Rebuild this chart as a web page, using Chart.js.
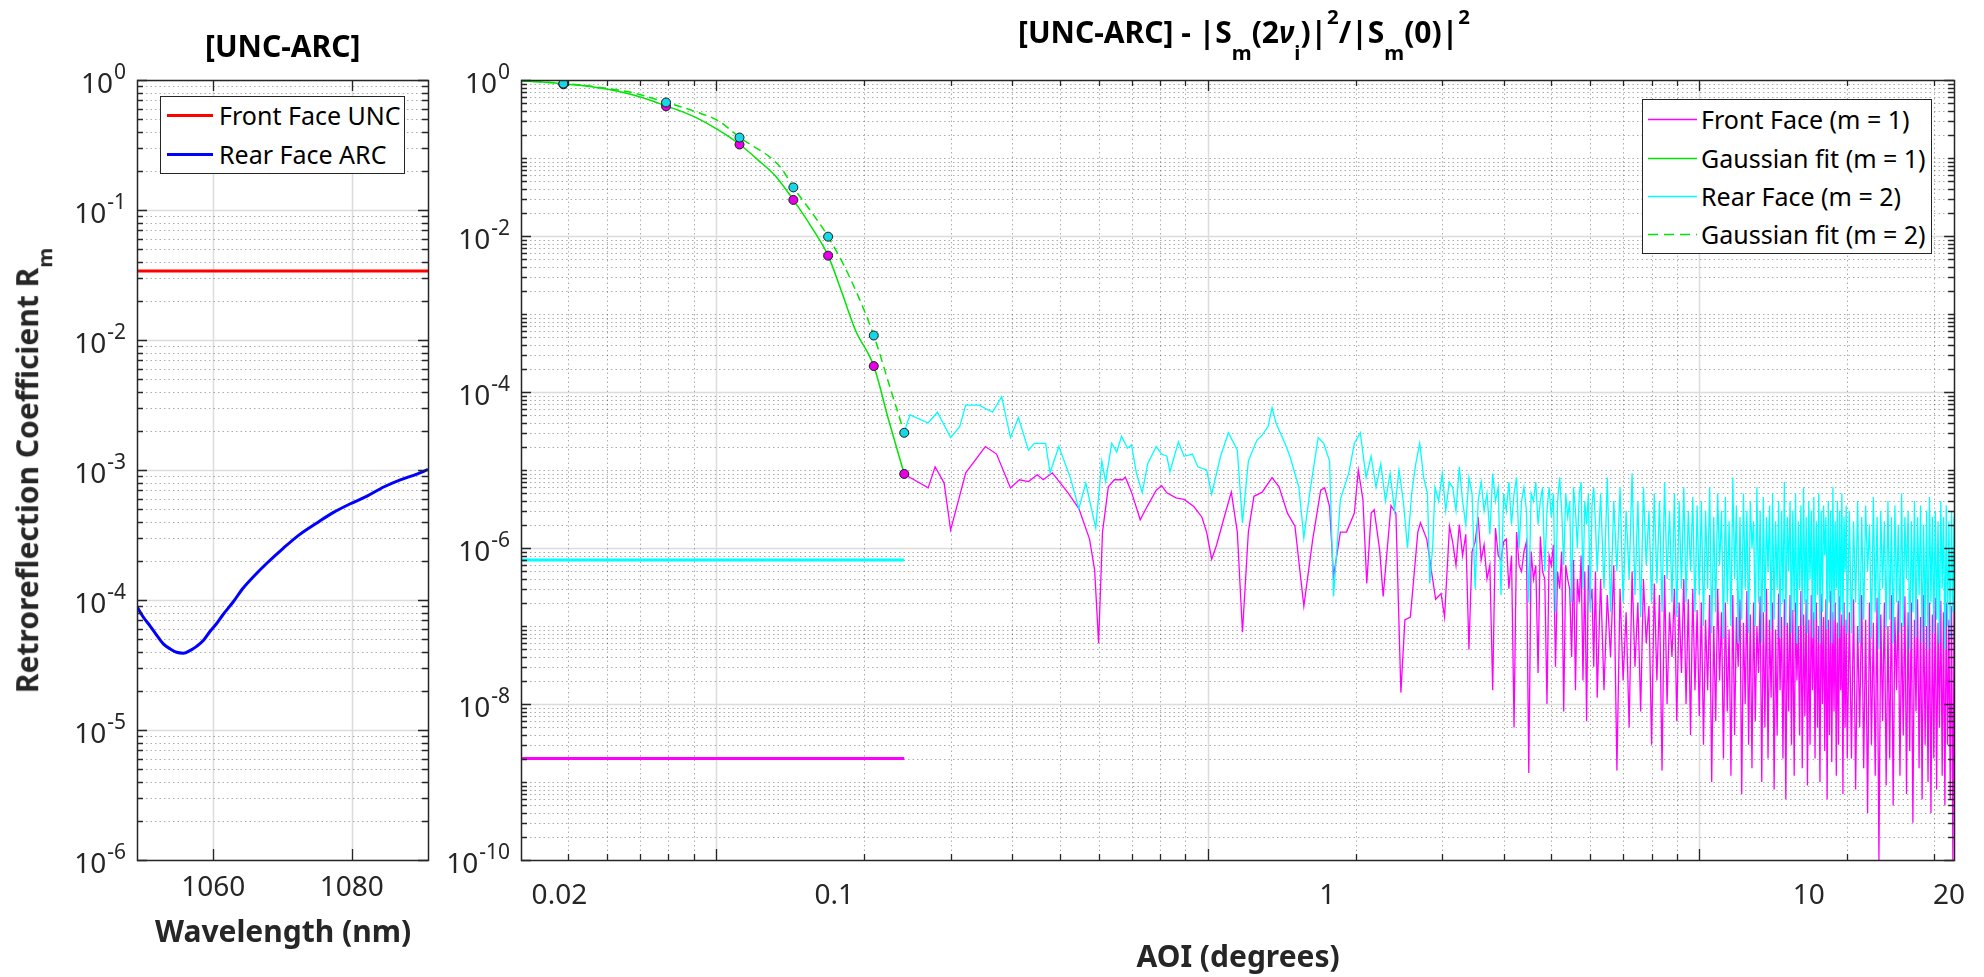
<!DOCTYPE html>
<html>
<head>
<meta charset="utf-8">
<title>[UNC-ARC] retroreflection</title>
<script src="https://cdn.jsdelivr.net/npm/chart.js@4.4.1/dist/chart.umd.min.js"></script>
<style>
  html, body { margin: 0; padding: 0; background: #ffffff; }
  #fig { position: relative; width: 1984px; height: 977px; overflow: hidden; background: #ffffff; font-family: "Noto Sans", sans-serif; }
  #fig canvas { position: absolute; left: 0; top: 0; }
  .txt { position: absolute; white-space: nowrap; }
  .title { font-size: 30px; font-weight: 700; color: #000000; }
  .axlab { font-size: 30px; font-weight: 700; color: #262626; }
  .txt sub, .txt sup { font-size: 0.68em; line-height: 0; position: relative; vertical-align: baseline; }
  #titleR sup { top: -0.95em; }
  #titleR sub { top: 0.85em; }
  #ylab sub { top: 0.7em; }
  .legend { position: absolute; box-sizing: border-box; border: 1px solid #262626; background: #ffffff; }
  .legend .row { position: absolute; left: 0; height: 30px; width: 100%; }
  .legend svg { position: absolute; left: 0; top: 0; }
  .legend span { position: absolute; top: 0; left: 58px; line-height: 30px; font-size: 25px; color: #000000; white-space: nowrap; }
</style>
</head>
<body>
<div id="fig">
  <canvas id="chartL" width="1984" height="977" style="width:1984px;height:977px"></canvas>
  <canvas id="chartR" width="1984" height="977" style="width:1984px;height:977px"></canvas>
  <div class="txt title" id="titleL">[UNC-ARC]</div>
  <div class="txt title" id="titleR">[UNC-ARC] - |S<sub>m</sub>(2<i>&nu;</i><sub>i</sub>)|<sup>2</sup>/|S<sub>m</sub>(0)|<sup>2</sup></div>
  <div class="txt axlab" id="ylab">Retroreflection Coefficient R<sub>m</sub></div>
  <div class="txt axlab" id="xlabL">Wavelength (nm)</div>
  <div class="txt axlab" id="xlabR">AOI (degrees)</div>
  <div class="legend" id="legL" style="left:160px;top:96px;width:245px;height:78px"></div>
  <div class="legend" id="legR" style="left:1642px;top:99px;width:290px;height:155px"></div>
</div>
<script>
// ================= LEFT PANEL DATA =================
const leftWavelengthNm = [1049.0, 1049.9, 1050.9, 1051.8, 1052.8, 1053.8, 1054.7, 1055.7, 1056.7, 1057.6,
  1058.6, 1059.5, 1060.5, 1061.4, 1062.9, 1064.3, 1065.8, 1067.7, 1070.1, 1072.5,
  1074.9, 1077.3, 1079.8, 1082.2, 1084.6, 1087.0, 1089.4, 1091.0];
const leftRearArcR = [8.9e-5, 7.4e-5, 6.3e-5, 5.4e-5, 4.6e-5, 4.2e-5, 3.96e-5, 3.9e-5, 4.1e-5, 4.4e-5,
  4.9e-5, 5.7e-5, 6.6e-5, 7.7e-5, 9.7e-5, 1.23e-4, 1.51e-4, 1.91e-4, 2.5e-4, 3.2e-4,
  3.9e-4, 4.7e-4, 5.5e-4, 6.3e-4, 7.4e-4, 8.4e-4, 9.3e-4, 1.01e-3];
const leftFrontUncWavelengthNm = [1049, 1091];
const leftFrontUncR = [0.034, 0.034];
const leftXTickValues = [1060, 1080];
const leftXTickLabels = ['1060', '1080'];
const leftYTickValues = [1, 1e-1, 1e-2, 1e-3, 1e-4, 1e-5, 1e-6];
const leftYTickExponents = ['0', '-1', '-2', '-3', '-4', '-5', '-6'];
const leftLegendLabels = ['Front Face UNC', 'Rear Face ARC'];

// ================= RIGHT PANEL DATA =================
// x = spatial-frequency position on the log axis; the axis is labelled in AOI (degrees)
const markerNu = [0.489, 0.791, 1.116, 1.436, 1.690, 2.093, 2.414];
const frontMarkerR = [0.88, 0.46, 0.149, 0.029, 0.0056, 2.15e-4, 8.9e-6];
const rearMarkerR = [0.90, 0.515, 0.183, 0.042, 0.0098, 5.3e-4, 3.0e-5];

const fitFrontNu = [0.40, 0.441, 0.489, 0.543, 0.602, 0.667, 0.740, 0.791, 0.838, 0.911, 1.01,
  1.116, 1.218, 1.323, 1.436, 1.561, 1.690, 1.805, 1.921, 2.093, 2.243, 2.414];
const fitFrontR = [0.97, 0.943, 0.897, 0.838, 0.76, 0.66, 0.543, 0.464, 0.41, 0.33, 0.229,
  0.150, 0.094, 0.058, 0.029, 0.0132, 0.0056, 1.84e-3, 6.2e-4, 2.15e-4, 4.4e-5, 8.9e-6];
const fitRearNu = [0.40, 0.489, 0.602, 0.667, 0.791, 0.911, 1.01, 1.116, 1.35, 1.436, 1.561,
  1.690, 1.881, 2.093, 2.267, 2.414];
const fitRearR = [0.98, 0.906, 0.78, 0.70, 0.518, 0.39, 0.30, 0.184, 0.077, 0.042, 0.0205,
  0.0098, 2.73e-3, 5.3e-4, 1.06e-4, 3.0e-5];

const frontFloorNu = [0.40, 2.414];
const frontFloorR = [2.0e-9, 2.0e-9];
const rearFloorNu = [0.40, 2.414];
const rearFloorR = [7.0e-7, 7.0e-7];

const frontFeatureNu = [2.41, 2.70, 2.79, 2.91, 3.00, 3.22, 3.53, 3.72, 3.97, 4.14,
  4.32, 4.50, 4.63, 4.83, 5.20, 5.47, 5.75, 5.89, 6.00, 6.11,
  6.28, 6.46, 6.71, 6.80, 7.00, 7.29, 7.55, 7.86, 8.06, 8.26,
  8.62, 8.95, 9.37, 9.73, 9.95, 10.19, 10.43, 10.77, 11.17, 11.49,
  11.77, 12.10, 12.42, 12.91, 13.52, 13.97, 14.53, 15.05, 15.69, 16.36,
  16.98, 17.30, 17.70, 18.03, 18.62, 19.16, 19.88, 20.25, 20.69, 21.07,
  21.51, 21.81, 22.38, 22.75, 23.60, 24.15, 24.72, 25.19, 25.84, 26.76,
  27.09, 27.90, 29.09, 29.84, 30.33, 31.04];
const frontFeatureR = [8.9e-6, 5.9e-6, 1.1e-5, 6.8e-6, 1.7e-6, 9.2e-6, 2.0e-5, 1.6e-5, 5.9e-6, 7.5e-6,
  7.1e-6, 8.7e-6, 7.5e-6, 9.2e-6, 5.1e-6, 3.2e-6, 1.3e-6, 5.2e-7, 6.0e-8, 1.6e-6,
  6.1e-6, 7.5e-6, 7.5e-6, 8.1e-6, 5.2e-6, 2.3e-6, 3.5e-6, 5.5e-6, 6.3e-6, 5.1e-6,
  4.4e-6, 4.2e-6, 3.4e-6, 2.5e-6, 1.6e-6, 7.2e-7, 1.1e-6, 2.3e-6, 5.2e-6, 1.6e-6,
  8.3e-8, 1.6e-6, 4.6e-6, 5.2e-6, 8.0e-6, 6.1e-6, 2.8e-6, 1.9e-6, 1.8e-7, 1.3e-6,
  5.5e-6, 5.9e-6, 3.4e-6, 4.3e-7, 1.6e-6, 1.6e-6, 2.8e-6, 1.0e-5, 4.2e-6, 3.5e-7,
  2.8e-6, 3.1e-6, 9.4e-7, 2.4e-7, 3.5e-6, 2.8e-6, 1.4e-8, 1.2e-7, 1.3e-7, 1.6e-6,
  2.1e-6, 1.3e-6, 2.2e-7, 2.6e-7, 1.3e-7, 1.9e-6];
const rearFeatureNu = [2.41, 2.48, 2.70, 2.82, 3.00, 3.13, 3.22, 3.43, 3.65, 3.81,
  3.97, 4.12, 4.32, 4.44, 4.68, 4.78, 4.98, 5.25, 5.47, 5.65,
  5.92, 6.09, 6.20, 6.38, 6.53, 6.68, 6.87, 7.00, 7.16, 7.36,
  7.55, 7.86, 8.06, 8.26, 8.38, 8.72, 8.95, 9.31, 9.55, 9.95,
  10.19, 10.62, 11.02, 11.49, 11.77, 12.10, 12.59, 12.91, 13.27, 13.52,
  13.77, 14.36, 14.70, 15.33, 15.69, 16.13, 16.78, 17.22, 17.70, 18.03,
  18.62, 19.37, 19.88, 20.44, 21.0, 21.5, 22.0, 22.5, 23.0, 23.5,
  24.0, 24.5, 25.0, 25.5, 26.0, 26.5, 27.0, 27.5, 28.0, 28.3,
  28.7, 29.0, 29.5, 30.0, 30.5, 31.0];
const rearFeatureR = [3.0e-5, 5.1e-5, 4.0e-5, 5.5e-5, 2.6e-5, 3.6e-5, 6.8e-5, 6.8e-5, 5.5e-5, 8.7e-5,
  2.6e-5, 4.7e-5, 1.8e-5, 2.2e-5, 2.2e-5, 9.2e-6, 2.0e-5, 8.1e-6, 3.2e-6, 6.8e-6,
  1.8e-6, 1.3e-5, 7.1e-6, 2.2e-5, 1.7e-5, 2.7e-5, 1.9e-5, 2.1e-5, 9.2e-6, 5.1e-6,
  1.2e-5, 2.0e-5, 1.6e-5, 1.5e-5, 9.5e-6, 2.3e-5, 1.5e-5, 1.6e-5, 1.1e-5, 1.0e-5,
  4.9e-6, 1.5e-5, 3.0e-5, 1.8e-5, 2.1e-6, 1.3e-5, 2.4e-5, 2.8e-5, 3.6e-5, 6.3e-5,
  4.0e-5, 2.2e-5, 1.5e-5, 6.0e-6, 1.35e-6, 5.1e-6, 2.6e-5, 2.2e-5, 1.3e-5, 2.4e-7,
  4.2e-6, 9.2e-6, 2.2e-5, 3.0e-5, 8.0e-6, 1.5e-5, 6.0e-6, 1.2e-5, 4.0e-6, 9.0e-6,
  3.0e-6, 1.0e-5, 4.0e-6, 1.0e-6, 5.0e-6, 1.2e-5, 2.2e-5, 8.0e-6, 5.0e-6, 3.5e-7,
  1.1e-6, 6.0e-6, 4.0e-6, 9.0e-6, 3.0e-6, 7.0e-6];

// dense (noise-like) part, shared sample positions
const denseNuA = [31.5, 32, 32.5, 33, 33.5, 34, 34.5, 35, 35.5, 36,
  36.5, 37, 37.5, 38, 38.5, 39, 39.5, 40, 40.5, 41,
  41.5, 42, 42.5, 43, 43.5, 44, 44.5, 45, 45.5, 46,
  46.5, 47, 47.5, 48, 48.5, 49, 49.5, 50, 50.5, 51,
  51.5, 52, 52.5, 53, 53.5, 54, 54.5, 55, 55.5, 56,
  56.5, 57, 57.5, 58, 58.5, 59, 59.5, 60, 60.5, 61,
  61.5, 62];
const frontDenseA = [1.2e-6, 6e-7, 2.0e-6, 8e-7, 1.5e-6, 5e-8, 9e-7, 1.2e-6, 2.5e-6, 7e-7,
  1.1e-6, 4e-7, 6e-7, 1.5e-8, 1.8e-6, 8e-7, 7e-7, 1.2e-6, 1.3e-6, 3e-7,
  8e-7, 5e-9, 1.6e-6, 6e-7, 5e-7, 9e-7, 1.2e-6, 1.3e-9, 9e-7, 4e-7,
  6e-7, 2.5e-8, 1.4e-6, 5e-7, 4e-7, 1e-8, 8e-7, 6e-7, 1.1e-6, 3e-8,
  5e-7, 3e-7, 9e-7, 8e-9, 6e-7, 4e-7, 3e-7, 4e-8, 7e-7, 1.5e-8,
  4e-7, 2e-7, 8e-7, 2e-8, 5e-7, 6e-9, 6e-7, 2e-7, 3e-7, 3e-8,
  5e-7, 1.2e-8];
const rearDenseA = [6e-6, 3e-6, 1.1e-5, 4e-6, 2e-6, 8e-6, 5e-6, 3e-7, 4e-6, 7e-6,
  3e-6, 5e-6, 1.5e-6, 9e-6, 4e-6, 6e-6, 2.5e-7, 5e-6, 3e-6, 7e-6,
  2e-6, 5e-6, 8e-6, 1e-6, 4e-6, 6e-6, 3e-6, 2e-7, 5e-6, 4e-6,
  7e-6, 2e-6, 4e-6, 6e-6, 5e-7, 3e-6, 6e-6, 2.5e-6, 5e-6, 1.5e-7,
  4e-6, 8e-6, 3e-6, 6e-7, 5e-6, 2.5e-6, 4e-6, 2e-7, 6e-6, 3e-6,
  1e-6, 5e-6, 7e-6, 3e-7, 4e-6, 2e-6, 5e-6, 1.5e-7, 3.5e-6, 6e-6,
  2e-6, 5e-7];

const denseNuB = [63, 64, 65, 66, 67, 68, 69, 70, 71, 72,
  73, 74, 75, 76, 77, 78, 79, 80, 81, 82,
  83, 84, 85, 86, 87, 88, 89, 90, 91, 92,
  93, 94, 95, 96, 97, 98, 99, 100];
const frontDenseB = [4e-7, 1.5e-8, 2.5e-7, 4e-8, 6e-7, 1.4e-9, 3e-7, 2e-8, 1.5e-7, 5e-9,
  5e-7, 3e-8, 2e-7, 8e-9, 4e-7, 6e-8, 1.8e-7, 3e-9, 3.5e-7, 2e-8,
  2.5e-7, 1.4e-9, 4.5e-7, 1e-8, 1.5e-7, 4e-8, 3e-7, 6e-9, 2e-7, 2.5e-8,
  4e-7, 1e-8, 2.2e-7, 4e-9, 3e-7, 1.5e-8, 1.6e-7, 7e-9];
const rearDenseB = [5e-6, 3e-7, 8e-6, 1.5e-7, 4e-6, 5e-7, 6e-6, 2e-7, 3e-6, 4e-7,
  9e-6, 2.5e-7, 4e-6, 1.3e-7, 6e-6, 6e-7, 3e-6, 2e-7, 5e-6, 3.5e-7,
  4e-6, 1.5e-7, 7e-6, 4e-7, 3e-6, 2e-7, 5e-6, 1.3e-7, 4e-6, 3e-7,
  6e-6, 2e-7, 3e-6, 5e-7, 4.5e-6, 1.5e-7, 3.5e-6, 2.5e-7];

const denseNuC = [101, 102, 103, 104, 105, 106, 107, 108, 109, 110,
  111, 112, 113, 114, 115, 116, 117, 118, 119, 120,
  121, 122, 123, 124, 125, 126, 127, 128, 129, 130,
  131, 132, 133, 134, 135, 136, 137, 138, 139, 140,
  141, 142, 143, 144, 145, 146, 147, 148, 149, 150,
  151, 152, 153, 154, 155, 156, 157, 158, 159, 160,
  161, 162, 163, 164, 165, 166, 167, 168, 169, 170,
  171, 172, 173, 174, 175, 176, 177, 178, 179, 180,
  181, 182, 183, 184, 185, 186, 187, 188, 189, 190,
  191, 192, 193, 194, 195, 196, 197, 198, 199, 200];
const frontDenseC = [2e-7, 3e-9, 1.2e-7, 1.5e-8, 2.5e-7, 1e-9, 1e-7, 6e-9, 3e-7, 2e-8,
  1.5e-7, 2e-9, 2e-7, 8e-9, 9e-8, 1.2e-9, 2.5e-7, 4e-9, 1.3e-7, 3e-8,
  2.2e-7, 7e-10, 1.1e-7, 1e-8, 2.8e-7, 3e-9, 1.4e-7, 1.5e-9, 2e-7, 6e-9,
  1e-7, 2.5e-8, 2.4e-7, 1e-9, 1.5e-7, 5e-9, 3e-7, 2e-9, 1.2e-7, 1.2e-8,
  2e-7, 8e-10, 9e-8, 4e-9, 2.6e-7, 1.5e-8, 1.3e-7, 2e-9, 2.2e-7, 6e-10,
  1.1e-7, 8e-9, 2.5e-7, 3e-9, 1.6e-7, 1.2e-9, 2e-7, 2e-8, 1e-7, 4e-9,
  2.8e-7, 1.5e-9, 1.4e-7, 7e-9, 2.2e-7, 9e-10, 1.2e-7, 3e-9, 2.5e-7, 1.5e-8,
  1.5e-7, 2e-9, 2e-7, 5e-9, 1e-7, 1e-9, 2.6e-7, 1e-8, 1.3e-7, 2.5e-9,
  2.2e-7, 6e-10, 1.2e-7, 4e-9, 2.8e-7, 1.8e-9, 1.5e-7, 8e-9, 2e-7, 1.2e-9,
  1.1e-7, 3e-9, 2.4e-7, 1.5e-8, 1.4e-7, 7e-10, 2e-7, 5e-9, 1.2e-7, 2e-9];
const rearDenseC = [4e-6, 1e-7, 3e-6, 3e-7, 6e-6, 8e-8, 2.5e-6, 1.5e-7, 5e-6, 6e-7,
  3e-6, 7e-8, 4.5e-6, 2e-7, 2.2e-6, 1e-7, 8e-6, 4e-7, 3.5e-6, 6e-8,
  2.5e-6, 1.2e-7, 5e-6, 3e-7, 3e-6, 8e-8, 4e-6, 1e-6, 2.2e-6, 1e-7,
  6e-6, 2e-7, 3e-6, 6e-8, 4.5e-6, 1.5e-7, 2.5e-6, 5e-7, 3.5e-6, 9e-8,
  5e-6, 1.2e-7, 2.2e-6, 3e-7, 4e-6, 7e-8, 3e-6, 2e-7, 7e-6, 1e-7,
  2.5e-6, 5e-7, 4e-6, 8e-8, 3e-6, 1.5e-7, 5e-6, 6e-8, 2.2e-6, 3e-7,
  3.5e-6, 1e-7, 6e-6, 2e-7, 2.5e-6, 8e-8, 4e-6, 4e-7, 3e-6, 7e-8,
  4.5e-6, 1.2e-7, 2.2e-6, 2.5e-7, 5e-6, 6e-8, 3e-6, 1.5e-7, 3.5e-6, 8e-7,
  2.5e-6, 9e-8, 4e-6, 2e-7, 3e-6, 6e-8, 6e-6, 1.2e-7, 2.2e-6, 3e-7,
  4e-6, 7e-8, 3e-6, 1.5e-7, 5e-6, 1e-7, 2.5e-6, 5e-7, 3.5e-6, 8e-8];

const denseNuD = [202, 204, 206, 208, 210, 212, 214, 216, 218, 220,
  222, 224, 226, 228, 230, 232, 234, 236, 238, 240,
  242, 244, 246, 248, 250, 252, 254, 256, 258, 260,
  262, 264, 266, 268, 270, 272, 274, 276, 278, 280,
  282, 284, 286, 288, 290, 292, 294, 296, 298, 300,
  302, 304, 306, 308, 310, 312, 314, 316, 318, 320,
  322, 324, 326, 328, 330];
const frontDenseD = [1.5e-7, 2e-9, 2.2e-7, 8e-10, 1e-7, 5e-9, 2.5e-7, 1.5e-9, 1.2e-7, 4e-10,
  2e-7, 3e-9, 1.1e-7, 1.2e-9, 2.3e-7, 1e-10, 1.4e-7, 6e-9, 2e-7, 9e-10,
  1e-7, 2e-9, 2.5e-7, 5e-10, 1.3e-7, 1.5e-8, 2.1e-7, 1.2e-9, 1.1e-7, 4e-9,
  2.4e-7, 7e-10, 1.5e-7, 2.5e-9, 2e-7, 3e-10, 1.2e-7, 8e-9, 2.2e-7, 1.5e-9,
  1.3e-7, 6e-10, 2.5e-7, 3e-9, 1e-7, 1e-9, 2e-7, 4e-10, 1.4e-7, 2e-9,
  2.3e-7, 8e-10, 1.1e-7, 5e-9, 2.1e-7, 1.2e-9, 1.5e-7, 5e-10, 2e-7, 3e-9,
  1.2e-7, 6e-10, 1.8e-7, 1e-10, 2.4e-7];
const rearDenseD = [3e-6, 8e-8, 2.2e-6, 2e-7, 4e-6, 6e-8, 2.5e-6, 1.2e-7, 3.5e-6, 5e-7,
  2e-6, 7e-8, 4.5e-6, 1.5e-7, 2.5e-6, 5e-8, 3e-6, 3e-7, 2.2e-6, 9e-8,
  4e-6, 1.2e-7, 2.5e-6, 6e-8, 3.5e-6, 2e-7, 2e-6, 8e-8, 5e-6, 1e-7,
  2.5e-6, 4e-7, 3e-6, 5e-8, 2.2e-6, 1.5e-7, 4e-6, 7e-8, 2.5e-6, 2.5e-7,
  3.5e-6, 6e-8, 2e-6, 1e-7, 3e-6, 5e-8, 4.5e-6, 2e-7, 2.5e-6, 8e-8,
  3e-6, 1.2e-7, 2.2e-6, 6e-8, 4e-6, 3e-7, 2.5e-6, 5e-8, 3.5e-6, 1e-7,
  2.2e-6, 7e-8, 3e-6, 1.5e-7, 2.5e-6];

const rightXTickPositions = [0.48, 1.74, 17.5, 167, 322];
const rightXTickLabels = ['0.02', '0.1', '1', '10', '20'];
const rightYTickValues = [1, 1e-2, 1e-4, 1e-6, 1e-8, 1e-10];
const rightYTickExponents = ['0', '-2', '-4', '-6', '-8', '-10'];
const rightLegendLabels = ['Front Face (m = 1)', 'Gaussian fit (m = 1)', 'Rear Face (m = 2)', 'Gaussian fit (m = 2)'];

// ================= STYLE =================
const COL = { red: '#ff0000', blue: '#0000ff', magenta: '#ff00ff', cyan: '#00ffff', green: '#00e600',
  cyanMarker: '#14d8e6', magentaMarker: '#e600e6', axis: '#262626' };
const FONT = '"Noto Sans"';

Chart.defaults.font.family = 'Noto Sans';

// MATLAB-like axes: grid, inward ticks on all four sides, box, y labels as 10^n
const matlabAxes = {
  id: 'matlabAxes',
  beforeDatasetsDraw(chart, args, o) {
    const { ctx, chartArea: a } = chart;
    const xs = chart.scales.x, ys = chart.scales.y;
    ctx.save();
    ctx.beginPath();
    ctx.rect(a.left, a.top, a.right - a.left, a.bottom - a.top);
    ctx.clip();
    ctx.lineWidth = 1;
    ctx.setLineDash([1.5, 3]);
    ctx.strokeStyle = 'rgba(38,38,38,0.38)';
    ctx.beginPath();
    for (const v of o.xMinor) { const p = Math.round(xs.getPixelForValue(v)) + 0.5; ctx.moveTo(p, a.top); ctx.lineTo(p, a.bottom); }
    for (const v of o.yMinor) { const p = Math.round(ys.getPixelForValue(v)) + 0.5; ctx.moveTo(a.left, p); ctx.lineTo(a.right, p); }
    ctx.stroke();
    ctx.setLineDash([]);
    ctx.strokeStyle = 'rgba(38,38,38,0.16)';
    ctx.lineWidth = 1.5;
    ctx.beginPath();
    for (const v of o.xMajor) { const p = Math.round(xs.getPixelForValue(v)) + 0.5; ctx.moveTo(p, a.top); ctx.lineTo(p, a.bottom); }
    for (const v of o.yMajor) { const p = Math.round(ys.getPixelForValue(v)) + 0.5; ctx.moveTo(a.left, p); ctx.lineTo(a.right, p); }
    ctx.stroke();
    ctx.restore();
  },
  afterDraw(chart, args, o) {
    const { ctx, chartArea: a } = chart;
    const xs = chart.scales.x, ys = chart.scales.y;
    ctx.save();
    ctx.strokeStyle = COL.axis;
    ctx.lineWidth = 1.3;
    ctx.beginPath();
    const xt = (vals, len) => { for (const v of vals) { const p = Math.round(xs.getPixelForValue(v)) + 0.5;
      ctx.moveTo(p, a.bottom); ctx.lineTo(p, a.bottom - len); ctx.moveTo(p, a.top); ctx.lineTo(p, a.top + len); } };
    const yt = (vals, len) => { for (const v of vals) { const p = Math.round(ys.getPixelForValue(v)) + 0.5;
      ctx.moveTo(a.left, p); ctx.lineTo(a.left + len, p); ctx.moveTo(a.right, p); ctx.lineTo(a.right - len, p); } };
    xt(o.xMajor, 11); xt(o.xMinor, 6); yt(o.yMajorTicks, 10); yt(o.yMinor, 6);
    ctx.stroke();
    ctx.lineWidth = 1.5;
    ctx.strokeRect(Math.round(a.left) + 0.5, Math.round(a.top) + 0.5, Math.round(a.right - a.left), Math.round(a.bottom - a.top));
    // y tick labels 10^n
    ctx.fillStyle = COL.axis;
    ctx.textAlign = 'left';
    ctx.textBaseline = 'alphabetic';
    o.yLabelValues.forEach((v, i) => {
      const e = o.yLabelExps[i];
      const p = ys.getPixelForValue(v);
      ctx.font = '21px ' + FONT; const ew = ctx.measureText(e).width;
      ctx.font = '28px ' + FONT; const bw = ctx.measureText('10').width;
      const right = a.left - 11;
      ctx.fillText('10', right - ew - bw - 1, p + 13);
      ctx.font = '21px ' + FONT;
      ctx.fillText(e, right - ew, p - 1);
    });
    ctx.restore();
  }
};

const pts = (xs, ys) => xs.map((x, i) => ({ x, y: ys[i] }));
const lineDs = (label, xs, ys, color, width, extra) => Object.assign({
  label, data: pts(xs, ys), borderColor: color, backgroundColor: color,
  borderWidth: width, pointRadius: 0, fill: false, tension: 0, spanGaps: true
}, extra || {});

// ---------- left chart ----------
const leftYMinor = [];
for (let k = -6; k < 0; k++) for (let m = 2; m <= 9; m++) leftYMinor.push(m * Math.pow(10, k));

new Chart(document.getElementById('chartL'), {
  type: 'line',
  data: { datasets: [
    lineDs(leftLegendLabels[1], leftWavelengthNm, leftRearArcR, COL.blue, 3, { cubicInterpolationMode: 'monotone' }),
    lineDs(leftLegendLabels[0], leftFrontUncWavelengthNm, leftFrontUncR, COL.red, 3)
  ] },
  options: {
    responsive: false, animation: false, devicePixelRatio: 1, events: [],
    layout: { padding: { left: 0, top: 80, right: 1984 - 428, bottom: 0 } },
    plugins: { legend: { display: false }, tooltip: { enabled: false },
      matlabAxes: { xMajor: leftXTickValues, xMinor: [], yMajor: leftYTickValues, yMajorTicks: leftYTickValues,
        yMinor: leftYMinor, yLabelValues: leftYTickValues, yLabelExps: leftYTickExponents } },
    scales: {
      x: { type: 'linear', min: 1049, max: 1091,
        grid: { display: false, drawTicks: false }, border: { display: false },
        afterBuildTicks: (s) => { s.ticks = leftXTickValues.map(v => ({ value: v })); },
        ticks: { autoSkip: false, maxRotation: 0, minRotation: 0, padding: 11, color: COL.axis,
          font: { family: 'Noto Sans', size: 28 }, callback: (v, i) => leftXTickLabels[i] },
        afterFit: (s) => { s.height = 977 - 860; } },
      y: { type: 'logarithmic', min: 1e-6, max: 1,
        grid: { display: false, drawTicks: false }, border: { display: false },
        ticks: { display: false }, afterFit: (s) => { s.width = 137; } }
    }
  },
  plugins: [matlabAxes]
});

// ---------- right chart ----------
const rightYMinor = [];
for (let k = -10; k < 0; k++) for (let m = 1; m <= 9; m++) { if (m === 1 && k % 2 === 0) continue; rightYMinor.push(m * Math.pow(10, k)); }
const rightYMajorGrid = [1e-8, 1e-6, 1e-4, 1e-2];
const rightXMajor = [1, 10, 100];
const rightXMinor = [];
for (let k = -1; k <= 2; k++) for (let m = 2; m <= 9; m++) { const v = m * Math.pow(10, k); if (v > 0.401 && v < 330) rightXMinor.push(v); }

const frontNu = frontFeatureNu.concat(denseNuA, denseNuB, denseNuC, denseNuD);
const frontR = frontFeatureR.concat(frontDenseA, frontDenseB, frontDenseC, frontDenseD);
const rearNu = rearFeatureNu.concat(denseNuA, denseNuB, denseNuC, denseNuD);
const rearR = rearFeatureR.concat(rearDenseA, rearDenseB, rearDenseC, rearDenseD);

const markerOpts = (fill) => ({ showLine: false, pointRadius: 4.5, pointBackgroundColor: fill,
  pointBorderColor: '#1a1a1a', pointBorderWidth: 1 });

new Chart(document.getElementById('chartR'), {
  type: 'line',
  data: { datasets: [
    lineDs('Rear Face markers', markerNu, rearMarkerR, '#1a1a1a', 1, markerOpts(COL.cyanMarker)),
    lineDs('Front Face markers', markerNu, frontMarkerR, '#1a1a1a', 1, markerOpts(COL.magentaMarker)),
    lineDs(rightLegendLabels[3], fitRearNu, fitRearR, COL.green, 1.5, { borderDash: [8, 5], cubicInterpolationMode: 'monotone' }),
    lineDs(rightLegendLabels[1], fitFrontNu, fitFrontR, COL.green, 1.5, { cubicInterpolationMode: 'monotone' }),
    lineDs(rightLegendLabels[2], rearNu, rearR, COL.cyan, 1.3),
    lineDs(rightLegendLabels[0], frontNu, frontR, COL.magenta, 1.3),
    lineDs('Rear floor', rearFloorNu, rearFloorR, COL.cyan, 3),
    lineDs('Front floor', frontFloorNu, frontFloorR, COL.magenta, 3)
  ] },
  options: {
    responsive: false, animation: false, devicePixelRatio: 1, events: [],
    layout: { padding: { left: 0, top: 80, right: 1984 - 1967, bottom: 0 } },
    plugins: { legend: { display: false }, tooltip: { enabled: false },
      matlabAxes: { xMajor: rightXMajor, xMinor: rightXMinor, yMajor: rightYMajorGrid, yMajorTicks: rightYTickValues,
        yMinor: rightYMinor, yLabelValues: rightYTickValues, yLabelExps: rightYTickExponents } },
    scales: {
      x: { type: 'logarithmic', min: 0.401, max: 330,
        grid: { display: false, drawTicks: false }, border: { display: false },
        afterBuildTicks: (s) => { s.ticks = rightXTickPositions.map(v => ({ value: v })); },
        ticks: { autoSkip: false, maxRotation: 0, minRotation: 0, padding: 19, color: COL.axis,
          font: { family: 'Noto Sans', size: 28 }, callback: (v, i) => rightXTickLabels[i] },
        afterFit: (s) => { s.height = 977 - 860; } },
      y: { type: 'logarithmic', min: 1e-10, max: 1,
        grid: { display: false, drawTicks: false }, border: { display: false },
        ticks: { display: false }, afterFit: (s) => { s.width = 521; } }
    }
  },
  plugins: [matlabAxes]
});

// ---------- legends (HTML) ----------
function buildLegend(id, items, rowCenters, swX0, swX1) {
  const box = document.getElementById(id);
  items.forEach((it, i) => {
    const row = document.createElement('div');
    row.className = 'row';
    row.style.top = (rowCenters[i] - 15) + 'px';
    const dash = it.dash ? ` stroke-dasharray="${it.dash}"` : '';
    row.innerHTML = `<svg width="${swX1 + 2}" height="30"><line x1="${swX0}" y1="15.5" x2="${swX1}" y2="15.5" stroke="${it.color}" stroke-width="${it.width}"${dash}/></svg>`;
    const sp = document.createElement('span');
    sp.textContent = it.label;
    row.appendChild(sp);
    box.appendChild(row);
  });
}
buildLegend('legL', [
  { label: leftLegendLabels[0], color: COL.red, width: 3 },
  { label: leftLegendLabels[1], color: COL.blue, width: 3 }
], [18, 57], 6, 52);
buildLegend('legR', [
  { label: rightLegendLabels[0], color: COL.magenta, width: 1.5 },
  { label: rightLegendLabels[1], color: COL.green, width: 1.5 },
  { label: rightLegendLabels[2], color: COL.cyan, width: 1.5 },
  { label: rightLegendLabels[3], color: COL.green, width: 1.5, dash: '10 6' }
], [19, 58, 96, 134], 5, 54);

// ---------- text placement (baseline based) ----------
const mctx = document.createElement('canvas').getContext('2d');
function metrics(el) {
  const cs = getComputedStyle(el);
  mctx.font = `${cs.fontStyle} ${cs.fontWeight} ${cs.fontSize} ${cs.fontFamily}`;
  const m = mctx.measureText('Hg');
  return { asc: m.fontBoundingBoxAscent, desc: m.fontBoundingBoxDescent };
}
function placeText(id, x, baseline) {
  const el = document.getElementById(id);
  const { asc, desc } = metrics(el);
  el.style.lineHeight = (asc + desc) + 'px';
  el.style.top = (baseline - asc) + 'px';
  el.style.left = (x - el.offsetWidth / 2) + 'px';
}
placeText('titleL', 283, 57);
placeText('titleR', 1244, 43);
placeText('xlabL', 283, 942);
placeText('xlabR', 1238, 967);
(function () {
  const el = document.getElementById('ylab');
  const { asc, desc } = metrics(el);
  const h = asc + desc;
  el.style.lineHeight = h + 'px';
  const w = el.offsetWidth;
  const cx = 38 - (asc - h / 2), cy = 470;
  el.style.left = (cx - w / 2) + 'px';
  el.style.top = (cy - h / 2) + 'px';
  el.style.transformOrigin = '50% 50%';
  el.style.transform = 'rotate(-90deg)';
})();
</script>
</body>
</html>
